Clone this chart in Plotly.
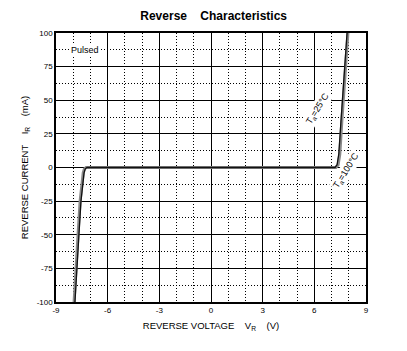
import plotly.graph_objects as go

# Reverse characteristics (voltage V, current mA)
v_25 = [-7.95, -7.85, -7.72, -7.6, -7.5, -7.42, -7.35, -7.25, 0.0, 7.25, 7.38, 7.48, 7.6, 7.72, 7.85, 7.95]
i_25 = [-100, -75, -50, -25, -10, -4, -1, 0, 0, 0, 2, 10, 35, 60, 85, 100]
v_100 = [-7.9, -7.8, -7.67, -7.55, -7.45, -7.37, -7.3, -7.2, 0.0, 7.2, 7.32, 7.42, 7.55, 7.67, 7.8, 7.9]
i_100 = [-100, -75, -50, -25, -10, -4, -1, 0, 0, 0, 2, 10, 35, 60, 85, 100]

x_ticks = [-9, -6, -3, 0, 3, 6, 9]
y_ticks = [-100, -75, -50, -25, 0, 25, 50, 75, 100]

fig = go.Figure()
fig.add_trace(go.Scatter(x=v_25, y=i_25, mode="lines",
                         line=dict(color="#8a8a8a", width=3), showlegend=False))
fig.add_trace(go.Scatter(x=v_100, y=i_100, mode="lines",
                         line=dict(color="#111111", width=1.3), showlegend=False))

font = dict(family="Liberation Sans, Arial, sans-serif", color="#000000")

fig.update_layout(
    width=407, height=351,
    margin=dict(l=56, r=41, t=33, b=49),
    paper_bgcolor="white", plot_bgcolor="white",
    title=dict(text="<b>Reverse    Characteristics</b>", x=0.525, xanchor="center",
               y=0.955, yanchor="middle", font=dict(size=12, **font)),
    font=dict(size=8, **font),
)
fig.update_xaxes(
    range=[-9, 9], tickvals=x_ticks, ticktext=[str(t) for t in x_ticks],
    showgrid=True, gridcolor="black", gridwidth=1.3,
    showline=True, linecolor="black", linewidth=1.5, mirror=True,
    zeroline=False, ticks="", tickfont=dict(size=8, **font),
    minor=dict(dtick=1, tick0=0, showgrid=True, gridcolor="black", griddash="1px,2px", gridwidth=1),
    title=dict(text="REVERSE VOLTAGE    V<sub>R</sub>    (V)", font=dict(size=9.5, **font), standoff=8),
)
fig.update_yaxes(
    range=[-100, 100], tickvals=y_ticks, ticktext=[str(t) for t in y_ticks],
    showgrid=True, gridcolor="black", gridwidth=1.3,
    showline=True, linecolor="black", linewidth=1.5, mirror=True,
    zeroline=False, ticks="", tickfont=dict(size=8, **font),
    minor=dict(dtick=12.5, tick0=0, showgrid=True, gridcolor="black", griddash="1px,2px", gridwidth=1),
    title=dict(text="REVERSE CURRENT    I<sub>R</sub>    (mA)", font=dict(size=9.5, **font), standoff=6),
)

fig.add_annotation(x=-7.3, y=87.5, text="Pulsed", showarrow=False,
                   font=dict(size=9, **font), bgcolor="white")
fig.add_annotation(x=6.2, y=44, text="T<sub>a</sub>=25°C", showarrow=False, textangle=-58,
                   font=dict(size=9, **font), bgcolor="white")
fig.add_annotation(x=7.85, y=-2, text="T<sub>a</sub>=100°C", showarrow=False, textangle=-58,
                   font=dict(size=9, **font), bgcolor="white")

fig.write_html("out.html")
